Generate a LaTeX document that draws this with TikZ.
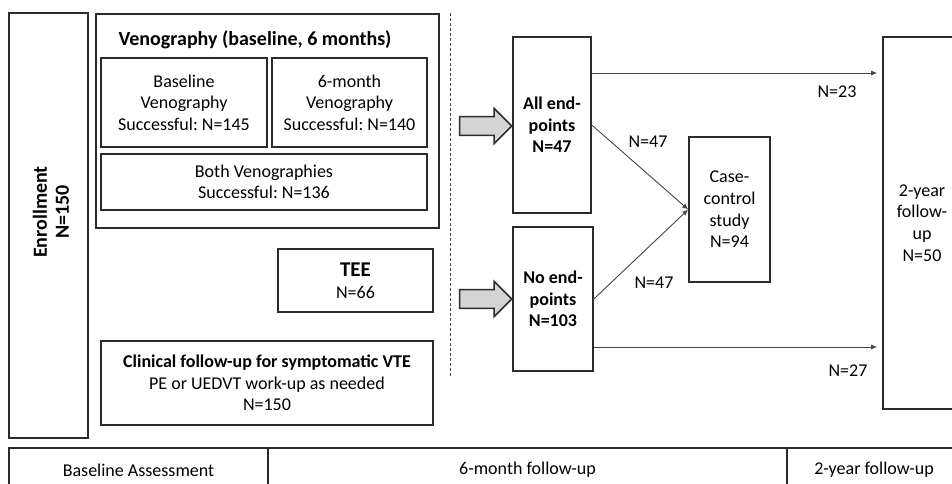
\documentclass[tikz,border=0pt]{standalone}
\usepackage{fontspec}
\setmainfont{Carlito}
\frenchspacing
\usetikzlibrary{arrows.meta,shapes.arrows}
\definecolor{boxgray}{HTML}{2B2B2B}
\definecolor{linegray}{HTML}{454545}
\definecolor{arrowfill}{HTML}{D4D4D4}
\tikzset{box/.style = {draw=boxgray,line width=1.6pt,inner sep=1pt,align=center,font=\fontsize{18}{21.6}\selectfont}}
\tikzset{tag/.style = {inner sep=0pt,align=center,font=\fontsize{18}{21.6}\selectfont}}
\tikzset{flow/.style = {-{Latex[length=6pt,width=5pt]},draw=linegray,line width=0.9pt}}
\tikzset{bigarrow/.style = {single arrow,draw=boxgray,fill=arrowfill,line width=1.5pt,
  minimum height=52pt,minimum width=35pt,inner xsep=0pt,inner ysep=7.5pt}}

\begin{document}
\begin{tikzpicture}[x=1pt,y=-1pt]
\useasboundingbox (0,0) rectangle (952,483);
\clip (0,0) rectangle (952,483);

% enrollment column
\node[box,minimum width=79pt,minimum height=425pt] (enroll) at (48.5,225.5) {};
\node[tag,rotate=90,font=\fontsize{20}{22}\selectfont\bfseries] (enrollText) at (51,212) {Enrollment\\N=150};

% venography block
\node[box,minimum width=343pt,minimum height=214pt] (veno) at (267.5,121) {};
\node[tag,font=\fontsize{20}{22}\selectfont\bfseries] (venoTitle) at (255,40) {Venography (baseline, 6 months)};
\node[box,minimum width=166pt,minimum height=89pt] (venoBase) at (184,102.5)
  {Baseline\\Venography\\Successful: N=145};
\node[box,minimum width=155pt,minimum height=89pt] (venoSix) at (349.5,102.5)
  {6-month\\Venography\\Successful: N=140};
\node[box,minimum width=326pt,minimum height=56pt] (venoBoth) at (264,182)
  {Both Venographies\\Successful: N=136};

\node[box,minimum width=155pt,minimum height=63pt] (tee) at (355.5,280.5)
  {{\fontsize{21}{21.6}\selectfont\bfseries TEE}\\N=66};
\node[box,minimum width=332pt,minimum height=84pt] (clin) at (267,383)
  {{\bfseries Clinical follow-up for symptomatic VTE}\\PE or UEDVT work-up as needed\\N=150};

% divider between baseline and follow-up
\draw[draw=linegray,line width=0.8pt,dash pattern=on 3pt off 2pt] (450,13) -- (450,377);

\node[bigarrow] (arrAll) at (481,126) {};
\node[bigarrow] (arrNo) at (481,299) {};

% 6-month outcome
\node[box,minimum width=78pt,minimum height=176pt,font=\fontsize{18}{21.6}\selectfont\bfseries] (all) at (552,125)
  {All end-\\points\\N=47};
\node[box,minimum width=80pt,minimum height=144pt,font=\fontsize{18}{21.6}\selectfont\bfseries] (noend) at (553,299)
  {No end-\\points\\N=103};
\node[box,minimum width=81pt,minimum height=145pt] (cc) at (729.5,209.5)
  {Case-\\control\\study\\N=94};
\node[box,minimum width=78pt,minimum height=372pt] (fu) at (922,223)
  {2-year\\follow-\\up\\N=50};

\coordinate (y23) at (0,73);
\coordinate (y27) at (0,347);
\draw[flow] (all.east |- y23) -- ([xshift=-5pt]fu.west |- y23);
\draw[flow] (noend.east |- y27) -- ([xshift=-5pt]fu.west |- y27);
\draw[flow] (all.east) -- (cc.west);
\draw[flow] (noend.east) -- (cc.west);

\node[tag] (n23) at (837,92) {N=23};
\node[tag] (n27) at (848,371) {N=27};
\node[tag] (n47a) at (648,142) {N=47};
\node[tag] (n47b) at (654,283) {N=47};

% study phases
\node[box,minimum width=259pt,minimum height=44pt] (phaseBase) at (138.5,470) {Baseline Assessment};
\node[box,minimum width=519pt,minimum height=44pt] (phaseSix) at (527.5,470) {6-month follow-up};
\node[box,minimum width=174pt,minimum height=44pt] (phaseTwo) at (874,470) {2-year follow-up};

\end{tikzpicture}
\end{document}
